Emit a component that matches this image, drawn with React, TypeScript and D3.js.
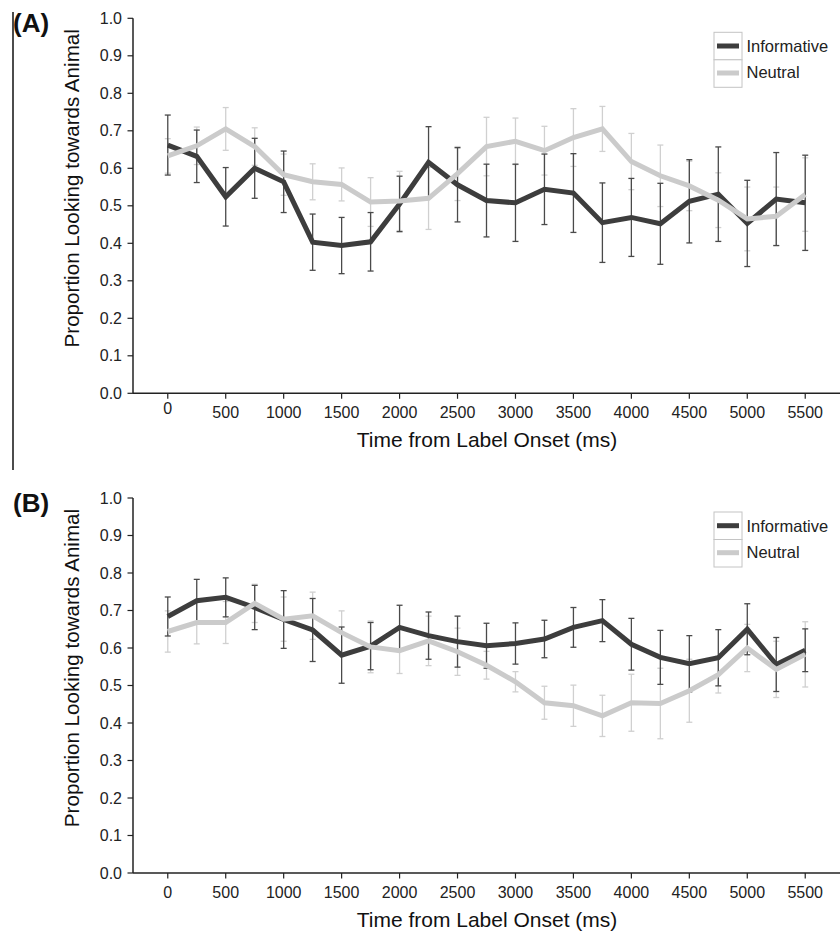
import React from "react";
import * as d3 from "d3";

const TIMES = [0, 250, 500, 750, 1000, 1250, 1500, 1750, 2000, 2250, 2500, 2750, 3000, 3250, 3500, 3750, 4000, 4250, 4500, 4750, 5000, 5250, 5500];
const X_TICKS = [0, 500, 1000, 1500, 2000, 2500, 3000, 3500, 4000, 4500, 5000, 5500];
const Y_TICKS = [0, 0.1, 0.2, 0.3, 0.4, 0.5, 0.6, 0.7, 0.8, 0.9, 1.0];
const SERIES_NAMES = ["Informative", "Neutral"];
const PANEL_LABELS = ["(A)", "(B)"];
const X_TITLE = "Time from Label Onset (ms)";
const Y_TITLE = "Proportion Looking towards Animal";

// Panel A
const A_INFORMATIVE = [0.662, 0.632, 0.524, 0.6, 0.564, 0.403, 0.394, 0.404, 0.505, 0.616, 0.556, 0.514, 0.508, 0.544, 0.534, 0.455, 0.469, 0.452, 0.512, 0.531, 0.453, 0.518, 0.508];
const A_INFORMATIVE_ERR = [0.08, 0.07, 0.078, 0.08, 0.082, 0.075, 0.075, 0.078, 0.074, 0.095, 0.099, 0.097, 0.103, 0.094, 0.105, 0.106, 0.104, 0.108, 0.111, 0.126, 0.115, 0.124, 0.127];
const A_NEUTRAL = [0.633, 0.66, 0.705, 0.658, 0.583, 0.564, 0.557, 0.51, 0.513, 0.52, 0.586, 0.658, 0.672, 0.647, 0.682, 0.705, 0.618, 0.58, 0.553, 0.515, 0.465, 0.472, 0.53];
const A_NEUTRAL_ERR = [0.046, 0.05, 0.057, 0.05, 0.055, 0.048, 0.044, 0.065, 0.079, 0.083, 0.072, 0.078, 0.062, 0.065, 0.077, 0.06, 0.075, 0.082, 0.066, 0.073, 0.085, 0.078, 0.098];

// Panel B
const B_INFORMATIVE = [0.684, 0.726, 0.735, 0.708, 0.676, 0.648, 0.581, 0.605, 0.655, 0.633, 0.617, 0.606, 0.612, 0.624, 0.655, 0.673, 0.61, 0.575, 0.558, 0.574, 0.65, 0.556, 0.594];
const B_INFORMATIVE_ERR = [0.052, 0.057, 0.052, 0.059, 0.077, 0.084, 0.075, 0.063, 0.059, 0.063, 0.068, 0.06, 0.055, 0.05, 0.053, 0.056, 0.069, 0.072, 0.075, 0.075, 0.068, 0.072, 0.057];
const B_NEUTRAL = [0.644, 0.668, 0.668, 0.719, 0.677, 0.686, 0.641, 0.603, 0.593, 0.619, 0.59, 0.554, 0.51, 0.454, 0.446, 0.419, 0.454, 0.452, 0.486, 0.529, 0.6, 0.543, 0.583];
const B_NEUTRAL_ERR = [0.055, 0.057, 0.056, 0.051, 0.059, 0.063, 0.058, 0.069, 0.061, 0.066, 0.063, 0.037, 0.027, 0.044, 0.055, 0.055, 0.076, 0.094, 0.084, 0.049, 0.063, 0.075, 0.087];

const FONT = "'Liberation Sans', Arial, Helvetica, sans-serif";
const DARK = "#3d3d3d";
const LIGHT = "#cbcbcb";
const DARK_ERR = "#4a4a4a";
const LIGHT_ERR = "#d0d0d0";

type PanelProps = {
  label: string;
  top: number;
  inf: number[];
  infErr: number[];
  neu: number[];
  neuErr: number[];
  zeroLabelDy: number;
};

function Panel({ label, top, inf, infErr, neu, neuErr, zeroLabelDy }: PanelProps) {
  const plotH = 375;
  const x = d3.scaleLinear().domain([-300, 5800]).range([133, 840]);
  const y = d3.scaleLinear().domain([0, 1]).range([top + plotH, top]);
  const line = d3
    .line<number>()
    .x((_, i) => x(TIMES[i]))
    .y((d) => y(d));

  const errBars = (vals: number[], errs: number[], color: string, key: string) =>
    vals.map((v, i) => {
      const cx = x(TIMES[i]);
      const y1 = y(v + errs[i]);
      const y2 = y(v - errs[i]);
      return (
        <g key={key + i} stroke={color} strokeWidth={1.3}>
          <line x1={cx} x2={cx} y1={y1} y2={y2} />
          <line x1={cx - 3} x2={cx + 3} y1={y1} y2={y1} />
          <line x1={cx - 3} x2={cx + 3} y1={y2} y2={y2} />
        </g>
      );
    });

  const base = top + plotH;
  const legTop = top + 14;

  return (
    <g>
      <text x={13} y={top + 14} fontFamily={FONT} fontWeight="bold" fontSize={26} fill="#111">
        {label}
      </text>
      {/* y axis */}
      <line x1={133} x2={133} y1={top} y2={base} stroke="#222" strokeWidth={1.5} />
      {Y_TICKS.map((t) => (
        <g key={"yt" + t}>
          <line x1={127.5} x2={133} y1={y(t)} y2={y(t)} stroke="#222" strokeWidth={1.2} />
          <text x={122} y={y(t) + 5.5} textAnchor="end" fontFamily={FONT} fontSize={16} fill="#222">
            {t.toFixed(1)}
          </text>
        </g>
      ))}
      {/* x axis */}
      <line x1={133} x2={840} y1={base} y2={base} stroke="#222" strokeWidth={1.5} />
      {X_TICKS.map((t) => (
        <g key={"xt" + t}>
          <line x1={x(t)} x2={x(t)} y1={base} y2={base + 5.5} stroke="#222" strokeWidth={1.2} />
          <text
            x={x(t)}
            y={base + 24.5 + (t === 0 ? zeroLabelDy : 0)}
            textAnchor="middle"
            fontFamily={FONT}
            fontSize={16}
            fill="#222"
          >
            {t}
          </text>
        </g>
      ))}
      <text x={487} y={base + 54} textAnchor="middle" fontFamily={FONT} fontSize={21} fill="#111">
        {X_TITLE}
      </text>
      <text
        transform={`translate(79, ${top + 170}) rotate(-90)`}
        textAnchor="middle"
        fontFamily={FONT}
        fontSize={20.6}
        fill="#111"
      >
        {Y_TITLE}
      </text>
      {/* error bars */}
      {errBars(neu, neuErr, LIGHT_ERR, "ne")}
      {errBars(inf, infErr, DARK_ERR, "ie")}
      {/* lines */}
      <path d={line(inf) || ""} fill="none" stroke={DARK} strokeWidth={5} strokeLinejoin="miter" />
      <path d={line(neu) || ""} fill="none" stroke={LIGHT} strokeWidth={5} strokeLinejoin="miter" />
      {/* legend */}
      <rect x={714} y={legTop} width={28} height={27.5} fill="white" stroke="#c4c4c4" strokeWidth={1} />
      <rect x={714} y={legTop + 27.5} width={28} height={27.5} fill="white" stroke="#c4c4c4" strokeWidth={1} />
      <line x1={717} x2={739} y1={legTop + 13.7} y2={legTop + 13.7} stroke={DARK} strokeWidth={5} />
      <line x1={717} x2={739} y1={legTop + 40.7} y2={legTop + 40.7} stroke={LIGHT} strokeWidth={5} />
      <text x={746.5} y={legTop + 20} fontFamily={FONT} fontSize={16.5} fill="#222">
        {SERIES_NAMES[0]}
      </text>
      <text x={746.5} y={legTop + 46} fontFamily={FONT} fontSize={16.5} fill="#222">
        {SERIES_NAMES[1]}
      </text>
    </g>
  );
}

export default function App() {
  return (
    <svg
      width={840}
      height={932}
      viewBox="0 0 840 932"
      style={{ position: "absolute", left: 0, top: 0, background: "white" }}
    >
      <rect x={0} y={0} width={840} height={932} fill="white" />
      <line x1={13} x2={13} y1={12} y2={470} stroke="#111" strokeWidth={1.5} />
      <Panel label={PANEL_LABELS[0]} top={18.3} inf={A_INFORMATIVE} infErr={A_INFORMATIVE_ERR} neu={A_NEUTRAL} neuErr={A_NEUTRAL_ERR} zeroLabelDy={-4} />
      <Panel label={PANEL_LABELS[1]} top={498} inf={B_INFORMATIVE} infErr={B_INFORMATIVE_ERR} neu={B_NEUTRAL} neuErr={B_NEUTRAL_ERR} zeroLabelDy={0} />
    </svg>
  );
}
